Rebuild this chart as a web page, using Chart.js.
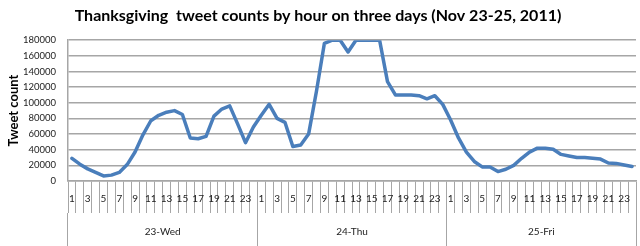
<!DOCTYPE html>
<html>
<head>
<meta charset="utf-8">
<script src="https://cdn.jsdelivr.net/npm/chart.js@4.4.0/dist/chart.umd.min.js"></script>
<style>
    html, body { margin: 0; padding: 0; background: #fff; }
    #wrap { width: 640px; height: 246px; }
</style>
</head>
<body>
<div id="wrap"><canvas id="tweetChart"></canvas></div>
<script>
// --- Data ---
const hourLabels = ['1','2','3','4','5','6','7','8','9','10','11','12',
                    '13','14','15','16','17','18','19','20','21','22','23','24'];
const dayLabels = ['23-Wed', '24-Thu', '25-Fri'];

const wedCounts = [29000, 21500, 15500, 11000, 6500, 7500, 11000, 21000, 37000, 59000, 77000, 84000,
                   88000, 90000, 85000, 55000, 54000, 57000, 83000, 92000, 96000, 73000, 49000, 69000];
const thuCounts = [84000, 98000, 80000, 75000, 44000, 46000, 60000, 115000, 176000, 180000, 180000, 165000,
                   180000, 180000, 180000, 180000, 127000, 110000, 110000, 110000, 109000, 105000, 109000, 98000];
const friCounts = [78000, 55000, 37000, 25000, 18000, 18000, 12000, 15000, 20000, 29000, 37000, 42000,
                   42000, 40500, 34000, 32000, 30000, 30000, 29000, 28000, 23000, 22500, 20500, 18500];

const yMin = 0;
const yMax = 180000;
const yStep = 20000;

const gridGray = '#a6a6a6';
const fontFamily = 'Lato';

document.addEventListener("DOMContentLoaded", function () {
    const ctx = document.getElementById('tweetChart').getContext('2d');

    new Chart(ctx, {
        type: 'line',
        data: {
            labels: [].concat(hourLabels, hourLabels, hourLabels),
            datasets: [{
                data: [].concat(wedCounts, thuCounts, friCounts),
                borderColor: '#4a7ebb',
                borderWidth: 3.5,
                borderJoinStyle: 'round',
                borderCapStyle: 'round',
                pointRadius: 0,
                tension: 0,
                fill: false
            }]
        },
        options: {
            responsive: true,
            maintainAspectRatio: false,
            animation: false,
            layout: { padding: { left: 0, right: 4, top: 0, bottom: 0 } },
            plugins: {
                legend: { display: false },
                tooltip: { enabled: false },
                title: {
                    display: true,
                    text: 'Thanksgiving  tweet counts by hour on three days (Nov 23-25, 2011)',
                    color: '#000',
                    font: { family: fontFamily, size: 16, weight: 'bold' },
                    padding: { top: 6, bottom: 15 }
                }
            },
            scales: {
                x: {
                    type: 'category',
                    offset: true,
                    grid: { offset: true, drawOnChartArea: false, tickLength: 32, color: gridGray, lineWidth: 1 },
                    border: { display: true, color: gridGray, width: 1.5 },
                    ticks: {
                        autoSkip: false,
                        maxRotation: 0,
                        padding: -20,
                        color: '#222',
                        font: { family: fontFamily, size: 10 },
                        callback: function (val, i) {
                            return i % 2 === 0 ? this.getLabelForValue(val) : '';
                        }
                    },
                    afterFit: function (scale) { scale.height = 32; }
                },
                x2: {
                    type: 'category',
                    position: 'bottom',
                    labels: dayLabels,
                    offset: true,
                    grid: { offset: true, drawOnChartArea: false, tickLength: 33, color: gridGray, lineWidth: 1 },
                    border: { display: false },
                    ticks: {
                        maxRotation: 0,
                        padding: -20,
                        color: '#222',
                        font: { family: fontFamily, size: 10 }
                    },
                    afterFit: function (scale) { scale.height = 33; }
                },
                y: {
                    min: yMin,
                    max: yMax,
                    grid: { color: gridGray, lineWidth: 1.5, drawTicks: false },
                    border: { display: true, color: gridGray, width: 1.5 },
                    ticks: {
                        stepSize: yStep,
                        padding: 12,
                        color: '#222',
                        font: { family: fontFamily, size: 9.5 },
                        callback: function (v) { return String(v); }
                    },
                    title: {
                        display: true,
                        text: 'Tweet count',
                        color: '#000',
                        font: { family: fontFamily, size: 13, weight: 'bold' },
                        padding: { top: 6, bottom: 0 }
                    },
                    afterFit: function (scale) { scale.width = 68; }
                }
            }
        }
    });
});
</script>
</body>
</html>
